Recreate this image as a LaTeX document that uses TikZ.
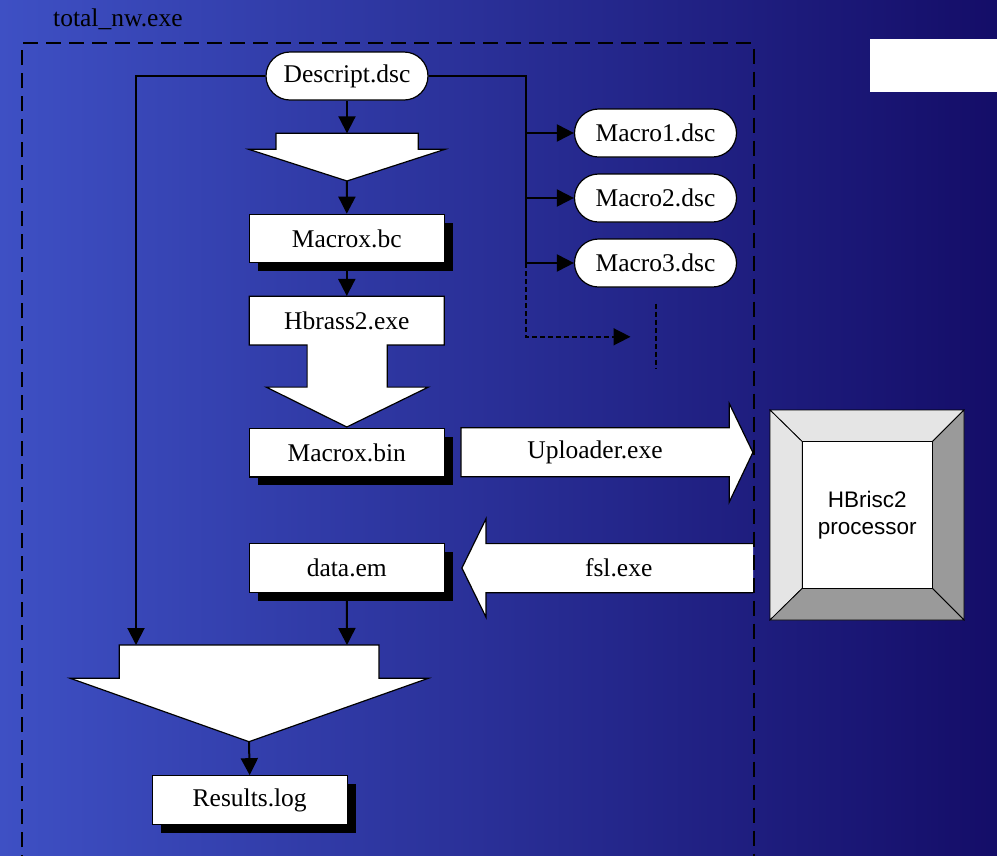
\documentclass[tikz,border=0pt]{standalone}
\usepackage{fontspec}
\setmainfont{Liberation Serif}
\newfontfamily\procfont{Liberation Sans}
\usetikzlibrary{arrows.meta,shadows}
\definecolor{bgleft}{RGB}{62,80,196}
\definecolor{bgmid}{RGB}{40,46,152}
\definecolor{bgright}{RGB}{20,13,104}
\definecolor{bevellight}{RGB}{229,229,229}
\definecolor{beveldark}{RGB}{154,154,154}

\begin{document}
\begin{tikzpicture}[x=1pt,y=-1pt,
  every node/.style={font=\fontsize{25.5}{30}\selectfont, inner sep=0pt},
  filebox/.style={draw=black, line width=1.2pt, fill=white,
    minimum width=195pt, minimum height=48.5pt},
  shadowed/.style={drop shadow={shadow xshift=8.5pt, shadow yshift=-8.5pt,
    fill=black, opacity=1}},
  terminal/.style={draw=black, line width=1.2pt, fill=white, rounded corners=24pt,
    minimum width=162pt, minimum height=48pt},
  blockarrow/.style={draw=black, line width=1.2pt, fill=white, line join=miter},
  conn/.style={draw=black, line width=2pt},
  tip/.style={-{Triangle[length=17pt,width=17pt]}},
  dconn/.style={draw=black, line width=1.6pt, dash pattern=on 5pt off 3pt},
  frame/.style={draw=black, line width=2pt, dash pattern=on 15pt off 8pt}
]
\useasboundingbox (0,0) rectangle (997,855);
\clip (0,0) rectangle (997,855);

% background
\shade[left color=bgleft, middle color=bgmid, right color=bgright]
  (0,0) rectangle (997,855);

% blank label plate
\node[fill=white, minimum width=130pt, minimum height=53.4pt, anchor=north west]
  (plate) at (870,38.3) {};

% program title
\node[anchor=base west] (title) at (53,26.7) {total\_nw.exe};

% block arrows
\draw[blockarrow] (276,133.3) -- (418.3,133.3) -- (418.3,149.3) -- (445,149.3)
  -- (347,181) -- (248.7,149.3) -- (276,149.3) -- cycle;
\coordinate (a1top) at (347,133.3);
\coordinate (a1tip) at (347,181);

\draw[blockarrow] (249.3,296.2) -- (444.3,296.2) -- (444.3,344.9) -- (387.2,344.9)
  -- (387.2,387.1) -- (428.4,387.1) -- (346.8,427) -- (266.2,387.1) -- (307.1,387.1)
  -- (307.1,344.9) -- (249.3,344.9) -- cycle;

\draw[blockarrow] (460.9,427.7) -- (729.2,427.7) -- (729.2,403.4) -- (752.9,452.4)
  -- (729.2,502.1) -- (729.2,476.7) -- (460.9,476.7) -- cycle;

\fill[white] (753,543.6) -- (485.9,543.6) -- (485.9,519) -- (461.9,568)
  -- (485.9,617) -- (485.9,592.7) -- (753,592.7) -- cycle;
\draw[blockarrow, fill=none] (753,543.6) -- (485.9,543.6) -- (485.9,519) -- (461.9,568)
  -- (485.9,617) -- (485.9,592.7) -- (753,592.7);

\draw[blockarrow] (119.3,645) -- (379,645) -- (379,678.3) -- (428.3,678.3)
  -- (249,741.7) -- (70.3,678.3) -- (119.3,678.3) -- cycle;
\coordinate (bigL) at (136,645);
\coordinate (bigR) at (347,645);
\coordinate (bigtip) at (249,741.7);

% program frame
\coordinate (fbl) at (22,870);
\coordinate (ftl) at (22,43.3);
\coordinate (ftr) at (754,43.3);
\coordinate (fbr) at (754,870);
\draw[frame] (fbl) -- (ftl) -- (ftr) -- (fbr);

% nodes
\node[terminal] (descript) at (347,76) {Descript.dsc};
\node[terminal] (macro1) at (655.5,133) {Macro1.dsc};
\node[terminal] (macro2) at (655.5,198) {Macro2.dsc};
\node[terminal] (macro3) at (655.5,263) {Macro3.dsc};

\node[filebox, shadowed] (macrobc) at (346.8,238.5) {Macrox.bc};
\node[minimum width=195pt, minimum height=48.7pt] (hbrass) at (346.8,320.5) {Hbrass2.exe};
\node[filebox, shadowed] (macrobin) at (346.8,452.7) {Macrox.bin};
\node[filebox, shadowed] (dataem) at (346.8,568) {data.em};
\node[filebox, shadowed] (results) at (249.7,800) {Results.log};

\node (uploader) at (595,452.2) {Uploader.exe};
\node (fsl) at (618.7,568) {fsl.exe};

% processor
\coordinate (po1) at (770,410);
\coordinate (po2) at (964,410);
\coordinate (po3) at (964,620);
\coordinate (po4) at (770,620);
\coordinate (pi1) at (802.3,441.7);
\coordinate (pi2) at (932.3,441.7);
\coordinate (pi3) at (932.3,588.3);
\coordinate (pi4) at (802.3,588.3);
\filldraw[fill=bevellight, draw=black, line width=0.8pt] (po1) -- (po2) -- (pi2) -- (pi1) -- cycle;
\filldraw[fill=bevellight, draw=black, line width=0.8pt] (po1) -- (pi1) -- (pi4) -- (po4) -- cycle;
\filldraw[fill=beveldark, draw=black, line width=0.8pt] (po2) -- (po3) -- (pi3) -- (pi2) -- cycle;
\filldraw[fill=beveldark, draw=black, line width=0.8pt] (po4) -- (pi4) -- (pi3) -- (po3) -- cycle;
\node[fill=white, draw=black, line width=0.8pt, minimum width=130pt, minimum height=146.6pt,
  align=center, font=\procfont\fontsize{22.5}{27}\selectfont] (proc) at (867.3,515) {HBrisc2\\processor};

% connectors
\coordinate (j1) at (526,133);
\coordinate (j2) at (526,198);
\coordinate (j3) at (526,263);
\coordinate (dtip) at (630.5,336.8);
\coordinate (v1) at (655.9,303.7);
\coordinate (v2) at (655.9,367.9);

\draw[conn, tip] (descript.west) -| (bigL);
\draw[conn] (descript.east) -| (j3);
\draw[conn, tip] (j1) -- (macro1.west);
\draw[conn, tip] (j2) -- (macro2.west);
\draw[conn, tip] (j3) -- (macro3.west);
\draw[dconn, tip] (j3) |- (dtip);
\draw[dconn] (v1) -- (v2);

\draw[conn, tip] (descript.south) -- (a1top);
\draw[conn, tip] (a1tip) -- (macrobc.north);
\draw[conn, tip] (macrobc.south) -- (hbrass.north);
\draw[conn, tip] (dataem.south) -- (bigR);
\draw[conn, tip] (bigtip) -- (results.north);
\end{tikzpicture}
\end{document}
